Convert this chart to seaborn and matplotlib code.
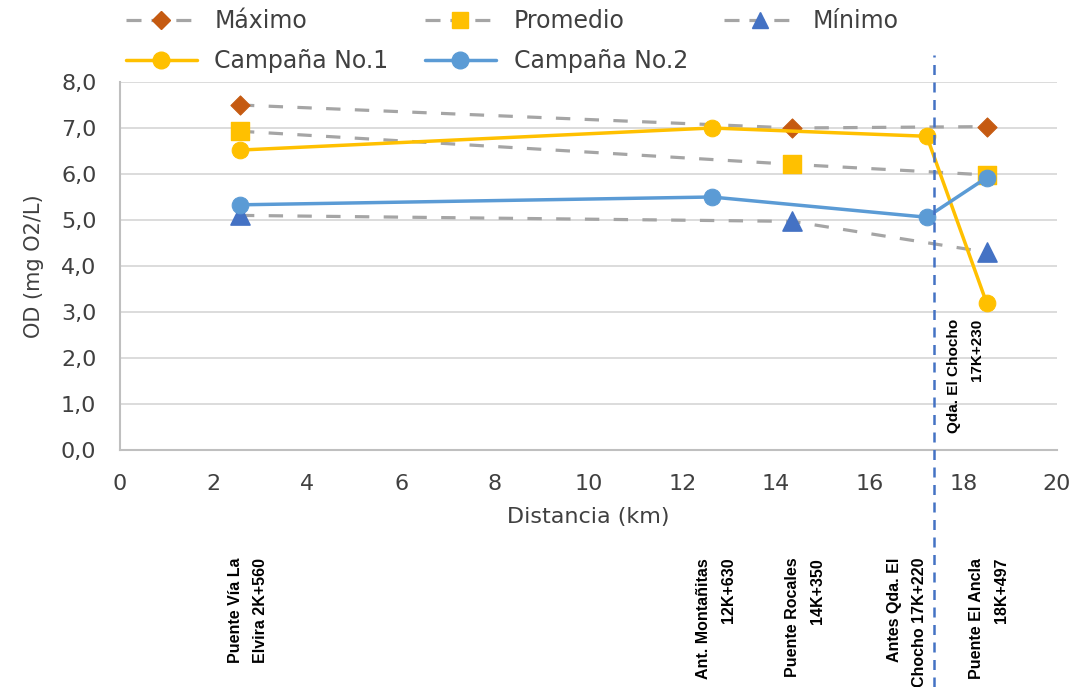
import matplotlib
matplotlib.use("Agg")
import matplotlib.pyplot as plt
import matplotlib.ticker as mticker
from matplotlib.lines import Line2D
import matplotlib.transforms as mtransforms
import seaborn as sns
import pandas as pd

# --- data ---
stations = ["Puente Vía La\nElvira 2K+560", "Ant. Montañitas\n12K+630",
            "Puente Rocales\n14K+350", "Antes Qda. El\nChocho 17K+220",
            "Puente El Ancla\n18K+497"]
station_km = [2.56, 12.63, 14.35, 17.22, 18.497]

ref_km = [2.56, 14.35, 18.497]
maximo = [7.5, 7.0, 7.03]
promedio = [6.93, 6.21, 5.98]
minimo = [5.1, 4.97, 4.3]

camp_km = [2.56, 12.63, 17.22, 18.497]
campana1 = [6.52, 7.0, 6.82, 3.2]
campana2 = [5.33, 5.5, 5.06, 5.92]

chocho_km = 17.38
chocho_label = "Qda. El Chocho\n17K+230"

GREY = "#A5A5A5"
C_MAX = "#C55A11"
C_PROM = "#FFC000"
C_MIN = "#4472C4"
C_C1 = "#FFC000"
C_C2 = "#5B9BD5"
TXT = "#404040"

sns.set_style("white")
plt.rcParams["font.family"] = ["DejaVu Sans"]

fig = plt.figure(figsize=(10.77, 6.87), dpi=100)
ax = fig.add_axes([120 / 1077, 1 - 450 / 687, 937 / 1077, 368 / 687])

dash = (4.5, 4.5)
ref = pd.DataFrame({"km": ref_km, "max": maximo, "prom": promedio, "min": minimo})
for col in ["max", "prom", "min"]:
    sns.lineplot(data=ref, x="km", y=col, ax=ax, color=GREY, lw=2.3,
                 dashes=False, linestyle=(0, dash), zorder=2)
sns.scatterplot(data=ref, x="km", y="max", ax=ax, marker="D", s=95,
                color=C_MAX, edgecolor=C_MAX, zorder=3)
sns.scatterplot(data=ref, x="km", y="prom", ax=ax, marker="s", s=160,
                color=C_PROM, edgecolor=C_PROM, zorder=3)
sns.scatterplot(data=ref, x="km", y="min", ax=ax, marker="^", s=190,
                color=C_MIN, edgecolor=C_MIN, zorder=3)

camp = pd.DataFrame({"km": camp_km, "c1": campana1, "c2": campana2})
sns.lineplot(data=camp, x="km", y="c1", ax=ax, color=C_C1, lw=2.5,
             marker="o", markersize=12, markeredgecolor=C_C1, zorder=4)
sns.lineplot(data=camp, x="km", y="c2", ax=ax, color=C_C2, lw=2.5,
             marker="o", markersize=12, markeredgecolor=C_C2, zorder=4)

# vertical marker for the creek
ax.axvline(chocho_km, ymin=-0.645, ymax=1.073, color=C_MIN, lw=1.8,
           linestyle=(0, (4, 3)), clip_on=False, zorder=5)
ax.text(18.05, 2.85, chocho_label, rotation=90, ha="center", va="top",
        multialignment="right", fontsize=11, fontweight="bold",
        family="Liberation Sans", color="black", linespacing=1.8)

# station labels under the axis
trans = mtransforms.blended_transform_factory(ax.transData, ax.transAxes)
label_dx = [0.17, 0.09, 0.27, -0.42, 0.05]
for name, km, dx in zip(stations, station_km, label_dx):
    ax.text(km + dx, -0.293, name, transform=trans, rotation=90,
            ha="center", va="top", multialignment="right", fontsize=11.5,
            fontweight="bold", family="Liberation Sans", color="black",
            linespacing=1.8, clip_on=False)

ax.set_xlim(0, 20)
ax.set_ylim(0, 8)
ax.xaxis.set_major_locator(mticker.MultipleLocator(2))
ax.xaxis.set_minor_locator(mticker.MultipleLocator(0.4))
ax.yaxis.set_major_locator(mticker.MultipleLocator(1))
ax.yaxis.set_major_formatter(
    mticker.FuncFormatter(lambda v, p: f"{v:.1f}".replace(".", ",")))
ax.grid(axis="y", color="#D9D9D9", lw=1.3)
ax.grid(axis="x", visible=False)
for s in ["top", "right"]:
    ax.spines[s].set_visible(False)
for s in ["left", "bottom"]:
    ax.spines[s].set_color("#BFBFBF")
    ax.spines[s].set_linewidth(1.5)
ax.tick_params(axis="x", which="major", length=6, width=1.3, color="#BFBFBF",
               labelsize=16, labelcolor=TXT, pad=11)
ax.tick_params(axis="x", which="minor", length=4, width=1.3, color="#BFBFBF")
ax.tick_params(axis="y", length=0, labelsize=16, labelcolor=TXT, pad=17)
ax.set_xlabel("Distancia (km)", fontsize=16, color=TXT, labelpad=10)
ax.set_ylabel("OD (mg O2/L)", fontsize=15, color=TXT, labelpad=12)

legend_dash = (0, (4.7, 3.1))
handles = [
    Line2D([], [], color=GREY, lw=2.3, ls=legend_dash, marker="D",
           markersize=9, markerfacecolor=C_MAX, markeredgecolor=C_MAX),
    Line2D([], [], color=C_C1, lw=2.5, marker="o", markersize=12),
    Line2D([], [], color=GREY, lw=2.3, ls=legend_dash, marker="s",
           markersize=11, markerfacecolor=C_PROM, markeredgecolor=C_PROM),
    Line2D([], [], color=C_C2, lw=2.5, marker="o", markersize=12),
    Line2D([], [], color=GREY, lw=2.3, ls=legend_dash, marker="^",
           markersize=12, markerfacecolor=C_MIN, markeredgecolor=C_MIN),
]
labels = ["Máximo", "Campaña No.1", "Promedio", "Campaña No.2", "Mínimo"]
fig.legend(handles, labels, loc="upper left",
           bbox_to_anchor=(114 / 1077, 1 + 3 / 687), ncol=3, frameon=False,
           fontsize=17, handlelength=3.0, handletextpad=0.75,
           columnspacing=1.55, labelspacing=0.68, borderpad=0,
           labelcolor=TXT)

fig.savefig("out.png", dpi=100)
